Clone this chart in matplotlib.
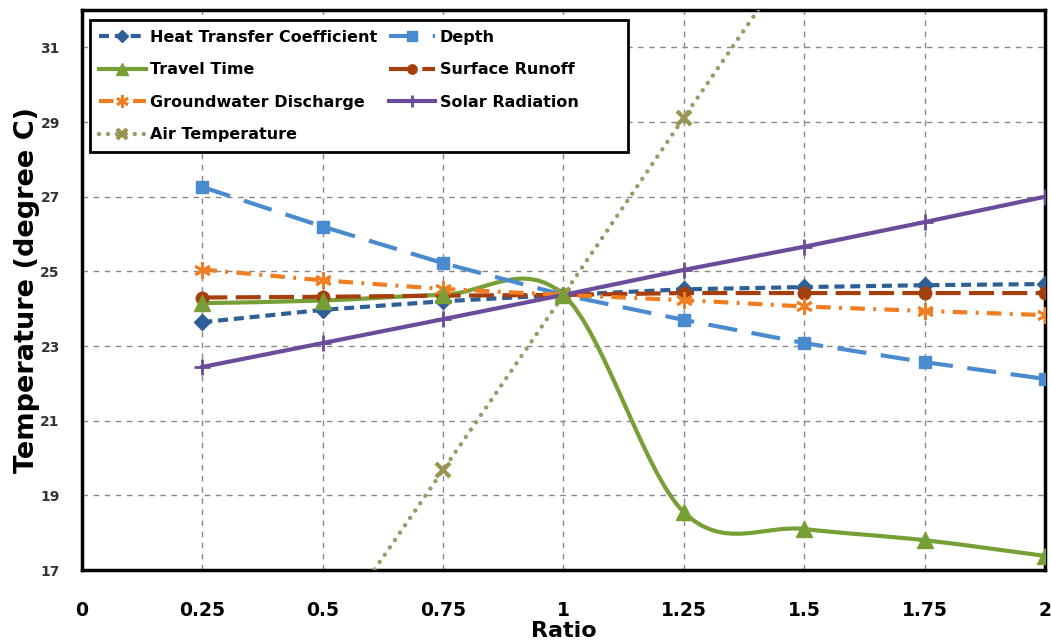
import matplotlib.pyplot as plt
import numpy as np
from matplotlib.path import Path
from matplotlib.patches import PathPatch, Rectangle
from matplotlib.lines import Line2D

# valeurs
ratio = [0.25, 0.5, 0.75, 1.0, 1.25, 1.5, 1.75, 2.0]
heat_transfer = [23.64, 23.97, 24.20, 24.37, 24.52, 24.58, 24.63, 24.66]
depth = [27.26, 26.20, 25.22, 24.37, 23.70, 23.08, 22.57, 22.12]
travel_time = [24.15, 24.22, 24.37, 24.37, 18.55, 18.10, 17.80, 17.38]
surface_runoff = [24.30, 24.32, 24.35, 24.37, 24.42, 24.42, 24.42, 24.42]
groundwater = [25.05, 24.76, 24.53, 24.37, 24.23, 24.06, 23.94, 23.83]
solar = [22.44, 23.08, 23.72, 24.37, 25.04, 25.66, 26.32, 27.00]
air_temp = [10.3, 15.0, 19.68, 24.37, 29.12, 33.8, 38.5, 43.2]

x_ticks = [0, 0.25, 0.5, 0.75, 1, 1.25, 1.5, 1.75, 2]
x_ticklabels = ['0', '0.25', '0.5', '0.75', '1', '1.25', '1.5', '1.75', '2']
y_ticks = [17, 19, 21, 23, 25, 27, 29, 31]

c_heat = '#2f5f97'
c_depth = '#4a8bd0'
c_travel = '#76a035'
c_runoff = '#a63f0e'
c_ground = '#f07d22'
c_solar = '#6b4c9a'
c_air = '#9c9a6a'

fig = plt.figure(figsize=(10.51, 6.42), dpi=100)
ax = fig.add_axes([0.078, 0.112, 0.9163, 0.8724])

lw = 3.0

l_heat, = ax.plot(ratio, heat_transfer, color=c_heat, lw=lw, dashes=(2.4, 1.4),
                  marker='D', ms=8, label='Heat Transfer Coefficient', zorder=4)
l_depth, = ax.plot(ratio, depth, color=c_depth, lw=lw, dashes=(7, 3.5),
                   marker='s', ms=9, label='Depth', zorder=4)
l_runoff, = ax.plot(ratio, surface_runoff, color=c_runoff, lw=lw, dashes=(6, 2),
                    marker='o', ms=9, label='Surface Runoff', zorder=4)
l_ground, = ax.plot(ratio, groundwater, color=c_ground, lw=lw, dashes=(3.5, 2, 0.7, 2),
                    marker=(6, 2, 0), ms=12, mew=2, label='Groundwater Discharge', zorder=4)
l_solar, = ax.plot(ratio, solar, color=c_solar, lw=lw, marker='+', ms=12, mew=2,
                   label='Solar Radiation', zorder=4)
l_air, = ax.plot(ratio, air_temp, color=c_air, lw=3.2, dashes=(0.01, 2.0),
                 dash_capstyle='round', marker='x', ms=10, mew=3, mec='#9a9450',
                 label='Air Temperature', zorder=4)

# Travel Time : courbe lissee (Bezier facon Excel)
pts = list(zip(ratio, travel_time))
verts = [pts[0]]
codes = [Path.MOVETO]
for i in range(len(pts) - 1):
    p0 = pts[i - 1] if i > 0 else pts[i]
    p1 = pts[i]
    p2 = pts[i + 1]
    p3 = pts[i + 2] if i + 2 < len(pts) else pts[i + 1]
    c1 = (p1[0] + (p2[0] - p0[0]) / 6, p1[1] + (p2[1] - p0[1]) / 6)
    c2 = (p2[0] - (p3[0] - p1[0]) / 6, p2[1] - (p3[1] - p1[1]) / 6)
    verts += [c1, c2, p2]
    codes += [Path.CURVE4] * 3
ax.add_patch(PathPatch(Path(verts, codes), fill=False, edgecolor=c_travel, lw=lw, zorder=3))
ax.plot(ratio, travel_time, ls='none', marker='^', ms=11, color=c_travel, zorder=4)
l_travel = Line2D([], [], color=c_travel, lw=lw, marker='^', ms=11, label='Travel Time')

ax.set_xlim(0, 2)
ax.set_ylim(17, 32)
ax.set_xticks(x_ticks)
ax.set_xticklabels(x_ticklabels)
ax.set_yticks(y_ticks)
ax.grid(True, color='#888888', lw=1, dashes=(4, 4))
ax.set_axisbelow(True)
ax.tick_params(axis='both', length=0)
ax.tick_params(axis='x', pad=22, labelsize=13.5)
ax.tick_params(axis='y', pad=16, labelsize=10, labelcolor='#333333')
for lab in ax.get_xticklabels() + ax.get_yticklabels():
    lab.set_fontweight('bold')
for sp in ax.spines.values():
    sp.set_linewidth(2.5)
    sp.set_color('black')

ax.set_xlabel('Ratio', fontsize=16, fontweight='bold', labelpad=1)
ax.set_ylabel('Temperature (degree C)', fontsize=19.5, fontweight='bold', labelpad=0)

handles = [l_heat, l_travel, l_ground, l_air, l_depth, l_runoff, l_solar]
leg = ax.legend(handles=handles, ncol=2, loc='upper left', bbox_to_anchor=(0.008, 0.982),
                prop={'weight': 'bold', 'size': 11.5}, fancybox=False, framealpha=1,
                edgecolor='black', handlelength=2.9, handletextpad=0.3, markerscale=0.75,
                columnspacing=0.7, labelspacing=1.1, borderpad=0.6, borderaxespad=0)
leg.set_zorder(6)
frame = leg.get_frame()
frame.set_visible(False)

# cadre de legende plus large, comme dans Excel
fig.canvas.draw()
bb = leg.get_window_extent().transformed(ax.transAxes.inverted())
ax.add_patch(Rectangle((bb.x0, bb.y0), 0.567 - bb.x0, bb.height, transform=ax.transAxes,
                       facecolor='white', edgecolor='black', lw=2, zorder=5))

fig.savefig('out.png', dpi=100)
